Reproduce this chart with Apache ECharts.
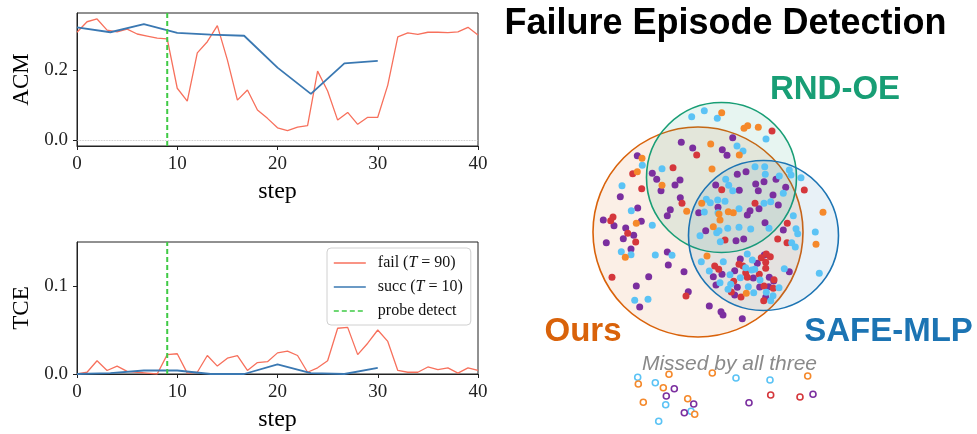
<!DOCTYPE html>
<html>
<head>
<meta charset="utf-8">
<script src="https://cdn.jsdelivr.net/npm/echarts@6/dist/echarts.min.js"></script>
<style>
  html, body { margin: 0; padding: 0; background: #fff; }
  #main { width: 977px; height: 434px; }
</style>
</head>
<body>
<div id="main"></div>
<script>
// ---- line charts (ACM / TCE per step) ----
const failSteps = [0,1,2,3,4,5,6,7,8,9,10,11,12,13,14,15,16,17,18,19,20,21,22,23,24,25,26,27,28,29,30,31,32,33,34,35,36,37,38,39,40];
const succSteps = [0, 3.33, 6.67, 10, 13.33, 16.67, 20, 23.33, 26.67, 30];
const failACM = [0.309,0.339,0.347,0.315,0.310,0.318,0.304,0.298,0.292,0.290,0.149,0.112,0.250,0.282,0.328,0.230,0.115,0.144,0.087,0.063,0.036,0.028,0.038,0.042,0.198,0.141,0.058,0.080,0.046,0.066,0.066,0.158,0.296,0.307,0.303,0.309,0.309,0.308,0.310,0.323,0.301];
const succACM = [0.323,0.309,0.332,0.307,0.302,0.299,0.208,0.133,0.220,0.227];
const failTCE = [0,0.002,0.015,0.004,0.009,0.003,0.002,0.001,0.0,0.022,0.023,0.001,0.002,0.021,0.009,0.018,0.021,0.004,0.013,0.014,0.024,0.026,0.021,0.002,0.007,0.015,0.052,0.053,0.022,0.035,0.050,0.037,0.004,0.002,0.002,0.008,0.005,0.007,0.001,0.007,0.004];
const succTCE = [0,0.001,0.004,0.004,0.0,0.0,0.011,0.001,0.0,0.007];
const probeStep = 9;
const acmTicks = [0, 0.2];
const tceTicks = [0, 0.1];
const legendLabels = {
  'fail': ['fail (', 'T', ' = 90)'],
  'succ': ['succ (', 'T', ' = 10)'],
  'probe detect': ['probe detect', '', '']
};

// ---- Venn (failure episode detection) ----
// circle: [centre x, centre y, radius]
const vennNames = ['Ours', 'RND-OE', 'SAFE-MLP'];
const vennCircles = [[698, 232, 105], [721.5, 177.5, 75], [763.5, 235.5, 75]];
const dotsPurple = [[681.3,142.3],[692.7,148],[722.3,149.7],[727,155.3],[637.3,155.7],[652.3,173.3],[656.7,179.3],[680,180],[675,185],[661,190.7],[620.3,196.7],[680.3,197.7],[637.7,208],[670.3,209.7],[667.3,215.7],[641.3,221.3],[603.3,220],[614,225.7],[625.7,228],[633.7,235.3],[623.3,238.7],[606.3,242.7],[631,249],[667.3,252],[732.7,137.7],
  [715.7,185],[739.3,190.3],[737.3,174.3],[746,171.7],[776,179.3],[764,181.7],[755.7,184],[758.3,190.7],[785.7,187.3],[773,195],[778.3,205],[759,208.7],[750,210.7],[747.3,215],[698.7,212.7],[718,207.3],[705.7,230.7],[765,222.7],[783.3,230],[736,240.7],[743.7,239],
  [740.3,259],[757.3,263.3],[764.3,255],[789.3,271.7],[713.3,276.7],[722,274.3],[734.7,270.7],[753.3,278],[769.3,277.3],[773.7,281],[716,285],[737.3,287.3],[759.7,287],[768.7,286.7],[734.7,295],[765.7,297.3],
  [668.3,265],[684,271.7],[648.7,276.7],[636.3,286],[688.3,291.7],[639.7,307],[709.3,306],[721,311.7],[723,315],[742.3,318.7]];
const dotsRed = [[772,131],[696.7,155],[632.7,173.7],[673,167.7],[641.7,188.7],[682,203.3],[610.7,220.7],[613,217],[627.7,233.3],[635.7,242],[721.7,189.7],[804.3,190],[755,203.3],[787.3,223.3],[777.7,239],[787,242.7],[725,240],
  [761.3,257.7],[766.3,254],[770.3,256.7],[739,264.3],[743,266],[765.7,262.3],[765.7,268.3],[714.7,266],[718.7,269.3],[745.7,272.7],[747.3,277.3],[759.3,274.3],[733.7,281.3],[774,279.7],[764,286],[773.3,288.3],[731.3,292],[741,297],[763.7,300.7],
  [612,277.3],[686,296]];
const dotsBlue = [[691.7,116.7],[704.3,110.7],[717.3,118.3],[766,139],[737,146],[743,151],[642.3,165.3],[662,168.7],[622,185.7],[631.3,210.7],[652.3,225.3],[621.3,251.7],[631,254.7],[655.3,255],[672,255.3],
  [725.7,179.3],[728.7,185.3],[732.7,190.7],[755,166.7],[764.7,166.7],[765.3,174.3],[779.3,176],[789.3,170],[791,175],[801,177.7],[783.3,193.3],[764,203.3],[770.7,201.7],[739,208.7],[725,201.3],[717.7,200],[710.3,202.7],[706.3,199.3],[704.3,212],[718,212.7],[700,235.7],[716.7,232.7],[719,230.7],[727.7,228.3],[739,227.3],[750.7,229],[769,228.3],[793.3,215.7],[796,228.7],[797.7,233.7],[815.3,232],[791.7,242.7],[795.3,247],[720.3,241.7],
  [701.3,261.7],[723.3,261.7],[747.3,254],[752.3,260],[754.7,269.3],[751.7,270],[784.3,268.7],[819.3,273.3],[709.3,271],[730,274.7],[745.7,267.7],[740.3,277.7],[760,280],[720,282.7],[728,289.3],[730.7,284.3],[748.3,286.7],[779,287.7],[753.7,292.7],[766.3,292.3],[773,295.7],[770.7,300.7],
  [634.7,300.3],[648,299.3]];
const dotsOrange = [[721.7,112.7],[744,128.3],[747.7,125.7],[758.3,127.3],[710.7,144],[739.3,155],[642,158.3],[637.3,171.7],[712,169],[662,185.3],[686.7,211.3],[636.3,223.3],[625.3,257.3],[701.7,203.3],[728.3,211.7],[733.3,212.7],[719,214],[720,220],[713.3,226.7],[823,212.3],[816,244.3],[707,256],[746.3,293.3]];
// missed by all three (hollow)
const missBlue = [[637.7,377.3],[655.3,382.7],[665.7,404.7],[691,411.3],[658.7,421.3],[736,378],[770,380]];
const missOrange = [[638.3,384],[669,374.3],[663.3,387.7],[643.3,402.3],[687.7,398.7],[694.7,414.3],[712.3,373],[807.7,376]];
const missPurple = [[674.3,388.7],[666.3,396],[693.7,404],[684.3,412.7],[749,402.7],[813,394.3]];
const missRed = [[770.7,395],[800,397]];

const cRed = '#f7705c', cBlue = '#3a78b2', cGreen = '#3fca45';
const dotColors = { purple: '#7b2f9f', red: '#d5373c', blue: '#5bc3f5', orange: '#f5892b' };
const vennColors = ['#d9620a', '#189e75', '#1c74b3'];
const serif = 'Liberation Serif';

const chart = echarts.init(document.getElementById('main'));

function pairs(xs, ys) { return xs.map((x, i) => [x, ys[i]]); }

function lineXAxis(idx) {
  return {
    gridIndex: idx, type: 'value', min: 0, max: 40, interval: 10,
    name: 'step', nameLocation: 'middle', nameGap: 34,
    nameTextStyle: { fontFamily: serif, fontSize: 24, color: '#000' },
    axisLine: { show: true, onZero: false, lineStyle: { color: '#222', width: 1 } },
    axisTick: { show: true, inside: false, length: 4, lineStyle: { color: '#222' } },
    axisLabel: { fontFamily: serif, fontSize: 19, color: '#222', margin: 9 },
    splitLine: { show: false }
  };
}
function lineYAxis(idx, name, min, max, ticks) {
  return {
    gridIndex: idx, type: 'value', min: min, max: max,
    name: name, nameLocation: 'middle', nameGap: 44,
    nameTextStyle: { fontFamily: serif, fontSize: 23, color: '#000' },
    axisLine: { show: true, onZero: false, lineStyle: { color: '#222', width: 1 } },
    axisTick: { show: true, inside: false, length: 4, customValues: ticks, lineStyle: { color: '#222' } },
    axisLabel: { fontFamily: serif, fontSize: 19, color: '#222', margin: 9, customValues: ticks,
      formatter: v => v.toFixed(1) },
    splitLine: { show: false }
  };
}

function dotSeries(data, color) {
  return { type: 'scatter', xAxisIndex: 2, yAxisIndex: 2, data: data, symbolSize: 7, z: 5,
    itemStyle: { color: color, opacity: 1 }, silent: true };
}
function missSeries(data, color) {
  return { type: 'scatter', xAxisIndex: 2, yAxisIndex: 2, data: data, symbolSize: 6, z: 5,
    itemStyle: { color: '#fff', borderColor: color, borderWidth: 1.6, opacity: 1 }, silent: true };
}

const option = {
  animation: false,
  backgroundColor: '#fff',
  grid: [
    { left: 77, top: 13, width: 401, height: 133, show: true, borderColor: '#222', borderWidth: 1 },
    { left: 77, top: 242, width: 401, height: 132, show: true, borderColor: '#222', borderWidth: 1 },
    { left: 500, top: 0, width: 477, height: 434, show: false }
  ],
  xAxis: [
    lineXAxis(0),
    lineXAxis(1),
    { gridIndex: 2, type: 'value', min: 500, max: 977, show: false }
  ],
  yAxis: [
    lineYAxis(0, 'ACM', -0.016, 0.364, acmTicks),
    lineYAxis(1, 'TCE', 0, 0.15, tceTicks),
    { gridIndex: 2, type: 'value', min: 0, max: 434, inverse: true, show: false }
  ],
  legend: {
    data: ['fail', 'succ', 'probe detect'],
    orient: 'vertical', left: 327, top: 248,
    itemWidth: 32, itemHeight: 14, itemGap: 8,
    padding: [7, 8, 6, 6],
    borderColor: '#d0d0d0', borderWidth: 1, borderRadius: 4,
    backgroundColor: '#fff',
    selectedMode: false,
    itemStyle: { opacity: 0 },
    lineStyle: { width: 1.6 },
    formatter: name => {
      const p = legendLabels[name];
      return '{a|' + p[0] + '}' + (p[1] ? '{i|' + p[1] + '}{b|' + p[2] + '}' : '');
    },
    textStyle: {
      fontFamily: serif, fontSize: 16, color: '#111',
      rich: {
        a: { fontFamily: serif, fontSize: 16, padding: [0, 0, 0, 7], color: '#111' },
        i: { fontFamily: serif, fontSize: 16, fontStyle: 'italic', color: '#111' },
        b: { fontFamily: serif, fontSize: 16, color: '#111' }
      }
    }
  },
  series: [
    { name: 'fail', type: 'line', xAxisIndex: 0, yAxisIndex: 0, data: pairs(failSteps, failACM),
      symbol: 'none', lineStyle: { color: cRed, width: 1.3 }, itemStyle: { color: cRed },
      markLine: { silent: true, symbol: 'none', label: { show: false },
        lineStyle: { color: '#b8b8b8', type: 'dotted', width: 0.8 }, data: [{ yAxis: 0 }] } },
    { name: 'succ', type: 'line', xAxisIndex: 0, yAxisIndex: 0, data: pairs(succSteps, succACM),
      symbol: 'none', lineStyle: { color: cBlue, width: 1.8 }, itemStyle: { color: cBlue } },
    { name: 'probe detect', type: 'line', xAxisIndex: 0, yAxisIndex: 0,
      data: [[probeStep, -0.016], [probeStep, 0.364]], symbol: 'none',
      lineStyle: { color: cGreen, width: 2, type: [5, 3] }, itemStyle: { color: cGreen } },

    { name: 'fail', type: 'line', xAxisIndex: 1, yAxisIndex: 1, data: pairs(failSteps, failTCE),
      symbol: 'none', lineStyle: { color: cRed, width: 1.3 }, itemStyle: { color: cRed } },
    { name: 'succ', type: 'line', xAxisIndex: 1, yAxisIndex: 1, data: pairs(succSteps, succTCE),
      symbol: 'none', lineStyle: { color: cBlue, width: 1.8 }, itemStyle: { color: cBlue } },
    { name: 'probe detect', type: 'line', xAxisIndex: 1, yAxisIndex: 1,
      data: [[probeStep, 0], [probeStep, 0.15]], symbol: 'none',
      lineStyle: { color: cGreen, width: 2, type: [5, 3] }, itemStyle: { color: cGreen } },

    { type: 'custom', xAxisIndex: 2, yAxisIndex: 2, data: vennCircles, z: 2, silent: true,
      encode: { x: 0, y: 1 },
      renderItem: function (params, api) {
        const c = api.coord([api.value(0), api.value(1)]);
        const r = Math.abs(api.size([api.value(2), 0])[0]);
        const col = vennColors[params.dataIndex];
        return { type: 'circle', shape: { cx: c[0], cy: c[1], r: r },
          style: { fill: echarts.color.modifyAlpha(col, 0.1), stroke: col, lineWidth: 1.6 } };
      } },
    dotSeries(dotsPurple, dotColors.purple),
    dotSeries(dotsRed, dotColors.red),
    dotSeries(dotsBlue, dotColors.blue),
    dotSeries(dotsOrange, dotColors.orange),
    missSeries(missBlue, dotColors.blue),
    missSeries(missOrange, dotColors.orange),
    missSeries(missPurple, dotColors.purple),
    missSeries(missRed, dotColors.red)
  ],
  graphic: [
    { type: 'text', x: 725.5, y: 24, z: 10, style: { text: 'Failure Episode Detection', fill: '#000',
      font: 'bold 36px "Liberation Sans", Arial, sans-serif', textAlign: 'center', textVerticalAlign: 'middle' } },
    { type: 'text', x: 835, y: 90, z: 10, style: { text: vennNames[1], fill: vennColors[1],
      font: 'bold 33px "Liberation Sans", Arial, sans-serif', textAlign: 'center', textVerticalAlign: 'middle' } },
    { type: 'text', x: 583, y: 332, z: 10, style: { text: vennNames[0], fill: vennColors[0],
      font: 'bold 33px "Liberation Sans", Arial, sans-serif', textAlign: 'center', textVerticalAlign: 'middle' } },
    { type: 'text', x: 888.5, y: 332, z: 10, style: { text: vennNames[2], fill: vennColors[2],
      font: 'bold 33px "Liberation Sans", Arial, sans-serif', textAlign: 'center', textVerticalAlign: 'middle' } },
    { type: 'text', x: 729.5, y: 364, z: 10, style: { text: 'Missed by all three', fill: '#8a8a8a',
      font: 'italic 21px "Liberation Sans", Arial, sans-serif', textAlign: 'center', textVerticalAlign: 'middle' } }
  ]
};

chart.setOption(option);
</script>
</body>
</html>
